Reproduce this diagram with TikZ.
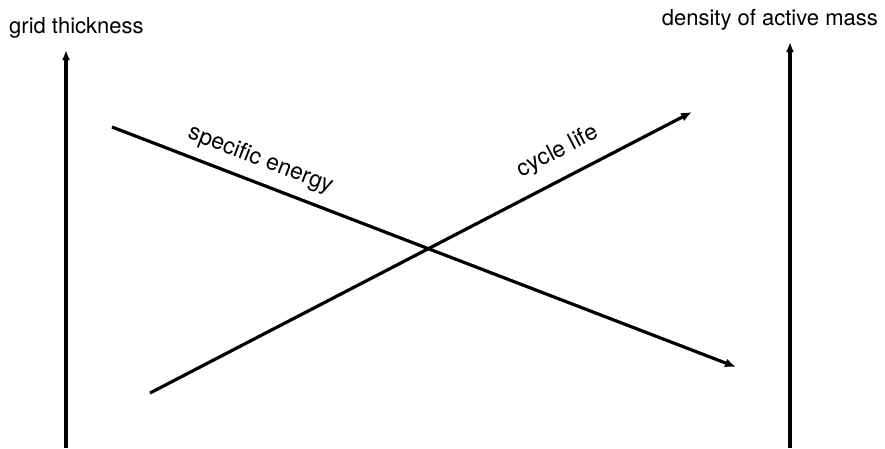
\documentclass[tikz,border=0pt]{standalone}
\usepackage{fontspec}
\setmainfont{TeX Gyre Heros}
\usetikzlibrary{arrows.meta,positioning}

\tikzset{
  axisline/.style={line width=3.5pt,-{Latex[length=10pt,width=8pt]}},
  trendline/.style={line width=3.2pt,-{Latex[length=11pt,width=9pt]}},
  axislabel/.style={font=\fontsize{22}{24}\selectfont,inner sep=0pt},
  trendlabel/.style={font=\fontsize{23}{24}\selectfont,sloped,above}
}

\begin{document}
\begin{tikzpicture}[x=1pt,y=-1pt]
  \useasboundingbox (0,0) rectangle (885,448);
  % axes
  \coordinate (gridbot) at (66,448);
  \coordinate (gridtop) at (66,50);
  \coordinate (densbot) at (790,448);
  \coordinate (denstop) at (790,42);
  \draw[axisline] (gridbot) -- (gridtop);
  \draw[axisline] (densbot) -- (denstop);
  \node[axislabel,anchor=base west] (gridlbl) at (9,33) {grid thickness};
  \node[axislabel,anchor=base east] (denslbl) at (878,25) {density of active mass};
  % trends
  \coordinate (sestart) at (112,127);
  \coordinate (seend) at (736,367);
  \coordinate (clstart) at (150,393);
  \coordinate (clend) at (692,112);
  \draw[trendline] (sestart) -- node[trendlabel,pos=.225,inner sep=10pt] (selbl) {specific energy} (seend);
  \draw[trendline] (clstart) -- node[trendlabel,pos=.775,inner sep=14pt] (cllbl) {cycle life} (clend);
\end{tikzpicture}
\end{document}
